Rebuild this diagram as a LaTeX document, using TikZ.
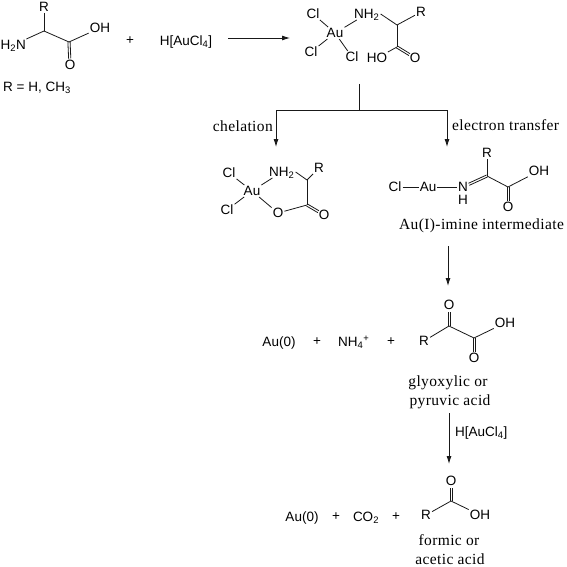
\documentclass[tikz,border=0pt]{standalone}
\usepackage{fontspec}
\setmainfont{Liberation Sans}
\newfontfamily\labelserif[LetterSpace=2.5]{Liberation Serif}
\usetikzlibrary{arrows.meta,calc}
\newcommand{\sbs}[1]{\textsubscript{#1}}
% double bond between two named points; the option says how far to stop short of them
\newcommand{\dblbond}[3][shorten >=6.5pt]{%
  \draw[bond,#1] ($(#2)!1.1pt!90:(#3)$)--($(#3)!1.1pt!-90:(#2)$);
  \draw[bond,#1] ($(#2)!1.1pt!-90:(#3)$)--($(#3)!1.1pt!90:(#2)$);}
\tikzset{
  x=1pt,y=-1pt,
  atom/.style={inner sep=1pt,font=\fontsize{13.5}{15}\selectfont,text height=9.6pt,text depth=0pt},
  plaintxt/.style={inner sep=0pt,font=\fontsize{13.5}{15}\selectfont,text height=9.6pt,text depth=0pt},
  captxt/.style={inner sep=0pt,font=\labelserif\fontsize{15.5}{17}\selectfont,text height=10pt,text depth=3pt},
  bond/.style={draw=black!90,line width=.8pt},
  rxn/.style={draw=black!90,line width=.85pt,-{Latex[length=8pt,width=5pt]}},
  treeline/.style={draw=black!90,line width=.85pt}
}
\begin{document}
\begin{tikzpicture}
\useasboundingbox (0,0) rectangle (567,567);
% glycine / alanine
\node[atom] (aR) at (44,7) {R};
\coordinate (aC) at (44,31);
\coordinate (aCO) at (69,42);
\node[atom,anchor=east] (aN) at (27,45) {H\sbs{2}N};
\node[atom] (aOH) at (100,28) {OH};
\node[atom] (aO) at (70,65) {O};
\draw[bond] (aR)--(aC); \draw[bond] (aC)--(aN); \draw[bond] (aC)--(aCO); \draw[bond] (aCO)--(aOH);
\dblbond{aCO}{aO}
\node[plaintxt] (rdef) at (37,87) {R = H, CH\sbs{3}};
\node[plaintxt] (p1) at (130,40) {+};
\node[plaintxt] (gold) at (186,41) {H[AuCl\sbs{4}]};
\coordinate (r1s) at (228,38); \coordinate (r1e) at (290,38);
\draw[rxn] (r1s)--(r1e);
% complex 1
\node[atom] (bAu) at (335,33) {Au};
\node[atom] (bCl1) at (313,14) {Cl};
\node[atom] (bCl2) at (311,52) {Cl};
\node[atom] (bCl3) at (352,57) {Cl};
\node[atom,anchor=west] (bN) at (353,14) {NH\sbs{2}};
\node[atom] (bR) at (421,12) {R};
\node[atom] (bHO) at (377,58) {HO};
\node[atom] (bO) at (415,58) {O};
\coordinate (bC) at (397,25); \coordinate (bCO) at (397,47);
\draw[bond] (bCl1)--(bAu); \draw[bond] (bCl2)--(bAu); \draw[bond] (bCl3)--(bAu); \draw[bond] (bAu)--(bN);
\draw[bond] (bN.east)--(bC); \draw[bond] (bC)--(bR); \draw[bond] (bC)--(bCO); \draw[bond] (bCO)--(bHO);
\dblbond{bCO}{bO}
% branch
\coordinate (t0) at (359.5,84); \coordinate (t1) at (359.5,110);
\coordinate (tl) at (276,110); \coordinate (tr) at (447,110);
\coordinate (tle) at (276,147); \coordinate (tre) at (447,147);
\draw[treeline] (t0)--(t1);
\draw[rxn] (t1)--(tl)--(tle);
\draw[rxn] (t1)--(tr)--(tre);
\node[captxt,anchor=east] (lchel) at (273,128) {chelation};
\node[captxt,anchor=west] (let) at (452,127) {electron transfer};
% chelate
\node[atom] (cAu) at (252,191) {Au};
\node[atom] (cCl1) at (229,173) {Cl};
\node[atom] (cCl2) at (227,210) {Cl};
\node[atom,anchor=west] (cN) at (268,172) {NH\sbs{2}};
\node[atom] (cR) at (319,168) {R};
\node[atom] (cOe) at (278,213) {O};
\node[atom] (cO) at (324,215) {O};
\coordinate (cC) at (307,180); \coordinate (cCO) at (307,205);
\draw[bond] (cCl1)--(cAu); \draw[bond] (cCl2)--(cAu); \draw[bond] (cAu)--(cN); \draw[bond] (cAu)--(cOe);
\draw[bond] (cN.east)--(cC); \draw[bond] (cC)--(cR); \draw[bond] (cC)--(cCO); \draw[bond] (cOe)--(cCO);
\dblbond{cCO}{cO}
% imine
\node[atom] (dCl) at (395,187) {Cl};
\node[atom] (dAu) at (428,187) {Au};
\node[atom] (dN) at (463,187) {N};
\node[atom] (dH) at (463,200) {H};
\node[atom] (dR) at (487,153) {R};
\node[atom] (dOH) at (539,171) {OH};
\node[atom] (dO) at (508,207) {O};
\coordinate (dC) at (487,176); \coordinate (dCO) at (508,187);
\draw[bond] (dCl)--(dAu); \draw[bond] (dAu)--(dN); \draw[bond] (dR)--(dC);
\dblbond[shorten <=6.5pt]{dN}{dC}
\draw[bond] (dC)--(dCO); \draw[bond] (dCO)--(dOH);
\dblbond{dCO}{dO}
\node[captxt] (lim) at (481.5,226) {Au(I)-imine intermediate};
\coordinate (r2s) at (448,246); \coordinate (r2e) at (448,286);
\draw[rxn] (r2s)--(r2e);
% products 1
\node[plaintxt] (e1) at (279,342) {Au(0)};
\node[plaintxt] (p2) at (317,341) {+};
\node[plaintxt,anchor=west] (e2) at (338,342) {NH\sbs{4}\textsuperscript{+}};
\node[plaintxt] (p3) at (391,341) {+};
\node[atom] (eR) at (424,341) {R};
\coordinate (eC) at (449,326); \coordinate (eCO) at (474,338);
\node[atom] (eO1) at (449,305) {O};
\node[atom] (eOH) at (505,323) {OH};
\node[atom] (eO2) at (474,358) {O};
\draw[bond] (eR)--(eC); \dblbond{eC}{eO1} \draw[bond] (eC)--(eCO); \draw[bond] (eCO)--(eOH); \dblbond{eCO}{eO2}
\node[captxt] (lgly) at (448,383) {glyoxylic or};
\node[captxt] (lpyr) at (450,402) {pyruvic acid};
\coordinate (r3s) at (449,413); \coordinate (r3e) at (449,464);
\draw[rxn] (r3s)--(r3e);
\node[plaintxt,anchor=west] (l3) at (455,432) {H[AuCl\sbs{4}]};
% products 2
\node[plaintxt] (f1) at (302,517) {Au(0)};
\node[plaintxt] (p4) at (336,516) {+};
\node[plaintxt] (f2) at (366,517) {CO\sbs{2}};
\node[plaintxt] (p5) at (396,516) {+};
\node[atom] (fR) at (426,515) {R};
\coordinate (fC) at (451,501);
\node[atom] (fO) at (451,481) {O};
\node[atom] (fOH) at (480,515) {OH};
\draw[bond] (fR)--(fC); \dblbond{fC}{fO} \draw[bond] (fC)--(fOH);
\node[captxt] (lfor) at (449,542) {formic or};
\node[captxt] (lace) at (450,561) {acetic acid};
\end{tikzpicture}
\end{document}
